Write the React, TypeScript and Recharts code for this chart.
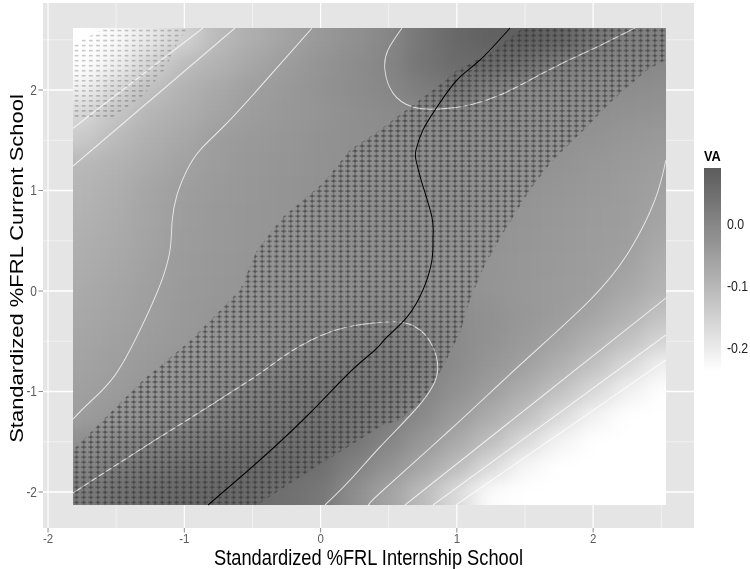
import React from "react";
import { ScatterChart, Scatter, XAxis, YAxis, CartesianGrid, Label } from "recharts";

// the reference is squeezed horizontally, so draw wide and scale the x direction
const SX = 0.85;
const W = 750 / SX;
const H = 569;
const PLOT_LEFT = 43 / SX;
const PLOT_RIGHT_GAP = (750 - 694) / SX;
const PLOT_TOP = 3;
const X_AXIS_H = 41;
const PLOT_W = W - PLOT_LEFT - PLOT_RIGHT_GAP;
const PLOT_H = H - PLOT_TOP - X_AXIS_H;

const X_DOMAIN = [-2.037, 2.74];
const Y_DOMAIN = [-2.358, 2.866];
const TICKS = [-2, -1, 0, 1, 2];
const MINOR = [-1.5, -0.5, 0.5, 1.5, 2.5];

// extent of the tiles
const TILE_X = [-1.817, 2.534];
const TILE_Y = [-2.129, 2.617];

// VA surface, read on a coarse grid (rows top to bottom)
const X_CENTERS = [-1.75, -1.5, -1.25, -1, -0.75, -0.5, -0.25, 0, 0.25, 0.5, 0.75, 1, 1.25, 1.5, 1.75, 2, 2.25, 2.5];
const Y_CENTERS = [2.5, 2.25, 2, 1.75, 1.5, 1.25, 1, 0.75, 0.5, 0.25, 0, -0.25, -0.5, -0.75, -1, -1.25, -1.5, -1.75, -2];
const VA_ROWS = [
  [-0.237, -0.225, -0.195, -0.152, -0.105, -0.083, -0.06, -0.039, -0.021, -0.003, 0.034, 0.063, 0.079, 0.083, 0.072, 0.035, 0.012, 0.006],
  [-0.237, -0.21, -0.155, -0.11, -0.09, -0.066, -0.047, -0.03, -0.015, 0.002, 0.036, 0.056, 0.059, 0.045, 0.018, 0.005, 0.0, -0.004],
  [-0.21, -0.16, -0.115, -0.089, -0.07, -0.053, -0.04, -0.028, -0.016, -0.003, 0.018, 0.032, 0.009, -0.004, -0.008, -0.012, -0.016, -0.02],
  [-0.16, -0.125, -0.095, -0.08, -0.062, -0.047, -0.038, -0.03, -0.02, -0.012, -0.005, -0.004, -0.007, -0.012, -0.017, -0.02, -0.025, -0.03],
  [-0.135, -0.105, -0.085, -0.068, -0.048, -0.04, -0.033, -0.026, -0.02, -0.015, -0.012, -0.012, -0.014, -0.018, -0.023, -0.028, -0.035, -0.042],
  [-0.102, -0.09, -0.075, -0.058, -0.045, -0.038, -0.032, -0.026, -0.021, -0.017, -0.015, -0.016, -0.019, -0.023, -0.028, -0.035, -0.042, -0.05],
  [-0.095, -0.082, -0.065, -0.049, -0.042, -0.036, -0.03, -0.024, -0.02, -0.017, -0.016, -0.018, -0.022, -0.028, -0.034, -0.04, -0.046, -0.056],
  [-0.09, -0.078, -0.062, -0.047, -0.04, -0.034, -0.029, -0.024, -0.02, -0.018, -0.018, -0.02, -0.025, -0.031, -0.037, -0.043, -0.048, -0.063],
  [-0.085, -0.074, -0.06, -0.046, -0.039, -0.033, -0.028, -0.023, -0.02, -0.019, -0.02, -0.023, -0.028, -0.034, -0.04, -0.045, -0.05, -0.072],
  [-0.08, -0.07, -0.057, -0.044, -0.037, -0.031, -0.026, -0.022, -0.019, -0.019, -0.021, -0.025, -0.03, -0.036, -0.042, -0.047, -0.057, -0.085],
  [-0.075, -0.065, -0.053, -0.042, -0.035, -0.029, -0.024, -0.02, -0.017, -0.016, -0.017, -0.023, -0.03, -0.037, -0.044, -0.05, -0.07, -0.094],
  [-0.07, -0.06, -0.049, -0.04, -0.032, -0.024, -0.017, -0.01, -0.005, -0.003, -0.005, -0.013, -0.024, -0.035, -0.046, -0.065, -0.09, -0.123],
  [-0.065, -0.056, -0.046, -0.037, -0.028, -0.019, -0.01, 0.002, 0.011, 0.014, 0.007, -0.011, -0.025, -0.041, -0.06, -0.088, -0.12, -0.158],
  [-0.06, -0.051, -0.04, -0.03, -0.018, -0.007, 0.007, 0.018, 0.025, 0.025, 0.011, -0.012, -0.033, -0.054, -0.085, -0.12, -0.163, -0.21],
  [-0.054, -0.044, -0.033, -0.02, -0.005, 0.011, 0.027, 0.036, 0.036, 0.027, 0.005, -0.023, -0.05, -0.082, -0.119, -0.164, -0.209, -0.235],
  [-0.047, -0.033, -0.018, -0.003, 0.014, 0.027, 0.036, 0.041, 0.038, 0.023, -0.01, -0.043, -0.078, -0.116, -0.165, -0.212, -0.237, -0.237],
  [-0.02, -0.005, 0.012, 0.025, 0.035, 0.042, 0.048, 0.047, 0.036, 0.002, -0.035, -0.073, -0.113, -0.165, -0.215, -0.237, -0.237, -0.237],
  [0.0, 0.02, 0.035, 0.045, 0.052, 0.058, 0.058, 0.048, 0.007, -0.026, -0.067, -0.11, -0.167, -0.22, -0.237, -0.237, -0.237, -0.237],
  [0.02, 0.04, 0.055, 0.062, 0.064, 0.058, 0.045, 0.03, -0.018, -0.06, -0.107, -0.17, -0.23, -0.237, -0.237, -0.237, -0.237, -0.237],
];

// region marked "+" (significantly positive) and "-" (significantly negative)
const PLUS_REGION = [
  [1.485, 2.617], [2.534, 2.617], [2.534, 2.299], [2.395, 2.199], [2.145, 1.9], [1.955, 1.632],
  [1.705, 1.303], [1.536, 1.005], [1.353, 0.607], [1.206, 0.259], [1.096, -0.09], [1.023, -0.418],
  [0.898, -0.756], [0.751, -1.085], [0.583, -1.284], [0.458, -1.333], [0.142, -1.602], [-0.151, -1.851],
  [-0.467, -2.129], [-1.817, -2.129], [-1.817, -1.582], [-1.596, -1.284], [-1.303, -0.886], [-0.958, -0.498],
  [-0.591, 0.01], [-0.467, 0.408], [-0.276, 0.736], [0.018, 1.075], [0.216, 1.403], [0.436, 1.602],
  [0.531, 1.701], [0.825, 2.0], [1.001, 2.199], [1.243, 2.368],
];
const MINUS_REGION = [
  [-1.582, 2.617], [-0.958, 2.617], [-1.032, 2.517], [-1.134, 2.219], [-1.318, 1.92], [-1.523, 1.731],
  [-1.817, 1.731], [-1.817, 2.448], [-1.721, 2.517],
];

// contour lines
const CONTOUR_L1 = [[-1.817, 1.62], [-1.34, 2.12], [-0.863, 2.617]];
const CONTOUR_L2 = [[-1.817, 1.244], [-1.2, 1.956], [-0.628, 2.617]];
const CONTOUR_S = [
  [-0.063, 2.617], [-0.445, 2.03], [-0.701, 1.652], [-0.885, 1.403], [-0.98, 1.204], [-1.054, 0.955],
  [-1.09, 0.687], [-1.105, 0.408], [-1.178, 0.06], [-1.325, -0.388], [-1.508, -0.836], [-1.692, -1.104], [-1.817, -1.274],
];
const CONTOUR_TOP = [
  [0.597, 2.617], [0.494, 2.398], [0.472, 2.199], [0.531, 1.97], [0.678, 1.831], [0.876, 1.811], [1.096, 1.851],
  [1.316, 1.95], [1.536, 2.1], [1.778, 2.269], [2.028, 2.428], [2.307, 2.617],
];
const CONTOUR_LOW = [
  [-1.817, -2.01], [-1.178, -1.453], [-0.518, -0.886], [-0.224, -0.607], [0.069, -0.408], [0.326, -0.328],
  [0.583, -0.308], [0.729, -0.388], [0.817, -0.537], [0.854, -0.836], [0.693, -1.184], [0.436, -1.552],
  [0.216, -1.881], [0.032, -2.129],
];
const CONTOUR_R1 = [[0.362, -2.129], [0.436, -2.01], [0.949, -1.383], [1.463, -0.736], [1.977, -0.09], [2.27, 0.408], [2.453, 0.905], [2.534, 1.303]];
const CONTOUR_R2 = [[0.619, -2.129], [1.573, -1.104], [2.534, -0.07]];
const CONTOUR_R3 = [[0.825, -2.129], [2.534, -0.438]];
const CONTOUR_R4 = [[0.993, -2.129], [2.534, -0.687]];
const CONTOURS = [CONTOUR_L1, CONTOUR_L2, CONTOUR_S, CONTOUR_TOP, CONTOUR_LOW, CONTOUR_R1, CONTOUR_R2, CONTOUR_R3, CONTOUR_R4];

// black curve
const RIDGE = [
  [-0.826, -2.129], [-0.445, -1.682], [-0.078, -1.214], [0.216, -0.806], [0.399, -0.587], [0.487, -0.458],
  [0.634, -0.259], [0.751, 0.01], [0.817, 0.308], [0.825, 0.537], [0.817, 0.736], [0.744, 1.075],
  [0.7, 1.303], [0.7, 1.403], [0.751, 1.602], [0.854, 1.831], [1.001, 2.1], [1.17, 2.299], [1.39, 2.617],
];

const VA_MIN = -0.237;
const VA_MAX = 0.09;
const LEGEND_BREAKS = [0, -0.1, -0.2];

// white -> dark grey, interpolated in L*
const L_DARK = 39;
function grey(va: number) {
  const t = Math.min(1, Math.max(0, (va - VA_MIN) / (VA_MAX - VA_MIN)));
  const L = 100 + (L_DARK - 100) * t;
  const f = (L + 16) / 116;
  const Y = L > 8 ? f * f * f : L / 903.3;
  const s = Y <= 0.0031308 ? 12.92 * Y : 1.055 * Math.pow(Y, 1 / 2.4) - 0.055;
  const g = Math.round(Math.min(1, Math.max(0, s)) * 255);
  return `rgb(${g},${g},${g})`;
}

const toPts = (arr: number[][]) => arr.map(([x, y]) => ({ x, y }));

const heatData = VA_ROWS.flatMap((row, r) =>
  row.map((va, c) => ({ x: X_CENTERS[c], y: Y_CENTERS[r], va, r, c }))
);

const CELL_W = (0.25 * PLOT_W) / (X_DOMAIN[1] - X_DOMAIN[0]);
const CELL_H = (0.25 * PLOT_H) / (Y_DOMAIN[1] - Y_DOMAIN[0]);
const EXT = 40;

const HeatCell = (p: any) => {
  const { cx, cy, payload } = p;
  let x0 = cx - CELL_W / 2 - 0.5;
  let x1 = cx + CELL_W / 2 + 0.5;
  let y0 = cy - CELL_H / 2 - 0.5;
  let y1 = cy + CELL_H / 2 + 0.5;
  if (payload.c === 0) x0 -= EXT;
  if (payload.c === X_CENTERS.length - 1) x1 += EXT;
  if (payload.r === 0) y0 -= EXT;
  if (payload.r === Y_CENTERS.length - 1) y1 += EXT;
  return <rect x={x0} y={y0} width={x1 - x0} height={y1 - y0} fill={grey(payload.va)} />;
};

const NoDot = () => <g />;

const tileClip = (p: any) => {
  const [a, b] = p.points;
  return (
    <defs>
      <clipPath id="tileClip">
        <rect x={Math.min(a.x, b.x)} y={Math.min(a.y, b.y)} width={Math.abs(b.x - a.x)} height={Math.abs(b.y - a.y)} />
      </clipPath>
    </defs>
  );
};

const regionFill = (pattern: string) => (p: any) => {
  const d = p.points.map((q: any, i: number) => `${i ? "L" : "M"}${q.x},${q.y}`).join("") + "Z";
  return <path d={d} fill={`url(#${pattern})`} stroke="none" clipPath="url(#tileClip)" />;
};

const FONT = "Liberation Sans, Arial, Helvetica, sans-serif";

const XTick = ({ x, y, payload }: any) => (
  <text x={x} y={y} dy="0.71em" textAnchor="middle" fontSize={13.5} fill="#5a5a5a" fontFamily={FONT}>
    {payload.value}
  </text>
);
const YTick = ({ x, y, payload }: any) => (
  <text x={x} y={y} dy="0.355em" textAnchor="end" fontSize={14} fill="#5a5a5a" fontFamily={FONT}>
    {payload.value}
  </text>
);

const XTitle = ({ viewBox }: any) => (
  <text x={viewBox.x + viewBox.width / 2} y={565} textAnchor="middle" fontSize={21.5} fill="#000" fontFamily={FONT}>
    Standardized %FRL Internship School
  </text>
);
const YTitle = ({ viewBox }: any) => {
  const cx = viewBox.x + 19;
  const cy = PLOT_TOP + PLOT_H / 2 + 3;
  return (
    <text x={cx} y={cy} dy="0.355em" textAnchor="middle" fontSize={22} fill="#000" fontFamily={FONT} transform={`rotate(-90 ${cx} ${cy})`}>
      Standardized %FRL Current School
    </text>
  );
};

// pattern grid of the significance marks
const PAT_W = 8.4;
const PAT_H = 5.02;
const PAT_X = PLOT_LEFT + ((TILE_X[0] - X_DOMAIN[0]) / (X_DOMAIN[1] - X_DOMAIN[0])) * PLOT_W;
const PAT_Y = PLOT_TOP + ((Y_DOMAIN[1] - TILE_Y[1]) / (Y_DOMAIN[1] - Y_DOMAIN[0])) * PLOT_H;

// colour bar
const BAR_X = 704 / SX;
const BAR_W = 17 / SX;
const BAR_TOP = 168;
const BAR_H = 203;

export default function App() {
  const stops = Array.from({ length: 21 }, (_, i) => i / 20);
  return (
    <div style={{ position: "absolute", left: 0, top: 0, width: 750, height: 569, overflow: "hidden", background: "#fff" }}>
      <style>{`.heat { filter: url(#heatBlur); clip-path: url(#tileClip); }`}</style>
      <svg width={0} height={0} style={{ position: "absolute" }}>
        <defs>
          <filter id="heatBlur" x="-5%" y="-5%" width="110%" height="110%" colorInterpolationFilters="sRGB">
            <feGaussianBlur stdDeviation="14 9" />
          </filter>
          <pattern id="plusPat" patternUnits="userSpaceOnUse" x={PAT_X} y={PAT_Y} width={PAT_W} height={PAT_H}>
            <path d={`M1.3 ${PAT_H / 2} H7.1 M4.2 0.5 V${PAT_H - 0.5}`} stroke="#2a2a2a" strokeOpacity={0.85} strokeWidth={1} fill="none" />
          </pattern>
          <pattern id="minusPat" patternUnits="userSpaceOnUse" x={PAT_X} y={PAT_Y} width={PAT_W} height={PAT_H}>
            <path d={`M2 ${PAT_H / 2} H6.4`} stroke="#000" strokeOpacity={0.35} strokeWidth={1} fill="none" />
          </pattern>
        </defs>
      </svg>
      <div style={{ position: "absolute", left: 0, top: 0, width: W, height: H, transform: `scaleX(${SX})`, transformOrigin: "0 0" }}>
        <ScatterChart width={W} height={H} margin={{ top: PLOT_TOP, right: PLOT_RIGHT_GAP, bottom: 0, left: 0 }}>
          <CartesianGrid fill="#e5e5e5" fillOpacity={1} stroke="#f2f2f2" strokeWidth={1} verticalValues={MINOR} horizontalValues={MINOR} />
          <CartesianGrid fill="none" stroke="#ffffff" strokeWidth={1.4} verticalValues={TICKS} horizontalValues={TICKS} />
          <XAxis
            type="number"
            dataKey="x"
            domain={X_DOMAIN}
            ticks={TICKS}
            allowDataOverflow
            height={X_AXIS_H}
            axisLine={false}
            tickLine={{ stroke: "#7f7f7f" }}
            tickSize={4.5}
            tickMargin={0.5}
            tick={<XTick />}
          >
            <Label content={<XTitle />} />
          </XAxis>
          <YAxis
            type="number"
            dataKey="y"
            domain={Y_DOMAIN}
            ticks={TICKS}
            allowDataOverflow
            width={PLOT_LEFT}
            axisLine={false}
            tickLine={{ stroke: "#7f7f7f" }}
            tickSize={5.3}
            tickMargin={1.8}
            tick={<YTick />}
          >
            <Label content={<YTitle />} />
          </YAxis>
          <Scatter data={toPts([[TILE_X[0], TILE_Y[1]], [TILE_X[1], TILE_Y[0]]])} shape={NoDot} line={tileClip} isAnimationActive={false} />
          <Scatter className="heat" data={heatData} shape={HeatCell} isAnimationActive={false} />
          {CONTOURS.map((c, i) => (
            <Scatter
              key={i}
              data={toPts(c)}
              shape={NoDot}
              line={{ stroke: "#ffffff", strokeOpacity: 0.75, strokeWidth: 1.1 }}
              lineJointType="natural"
              isAnimationActive={false}
            />
          ))}
          <Scatter data={toPts(PLUS_REGION)} shape={NoDot} line={regionFill("plusPat")} isAnimationActive={false} />
          <Scatter data={toPts(MINUS_REGION)} shape={NoDot} line={regionFill("minusPat")} isAnimationActive={false} />
          <Scatter
            data={toPts(RIDGE)}
            shape={NoDot}
            line={{ stroke: "#000000", strokeWidth: 1.15 }}
            lineJointType="natural"
            isAnimationActive={false}
          />
        </ScatterChart>
        <svg width={W} height={H} style={{ position: "absolute", left: 0, top: 0, pointerEvents: "none" }}>
          <defs>
            <linearGradient id="vaBar" x1="0" y1="0" x2="0" y2="1">
              {stops.map((s) => (
                <stop key={s} offset={s} stopColor={grey(VA_MAX - s * (VA_MAX - VA_MIN))} />
              ))}
            </linearGradient>
          </defs>
          <text x={BAR_X} y={161} fontSize={15} fontWeight="bold" fill="#000" fontFamily={FONT}>
            VA
          </text>
          <rect x={BAR_X} y={BAR_TOP} width={BAR_W} height={BAR_H} fill="url(#vaBar)" />
          {LEGEND_BREAKS.map((v) => (
            <text
              key={v}
              x={727 / SX}
              y={BAR_TOP + ((VA_MAX - v) / (VA_MAX - VA_MIN)) * BAR_H}
              dy="0.355em"
              fontSize={14.5}
              fill="#222"
              fontFamily={FONT}
            >
              {v.toFixed(1)}
            </text>
          ))}
        </svg>
      </div>
    </div>
  );
}
